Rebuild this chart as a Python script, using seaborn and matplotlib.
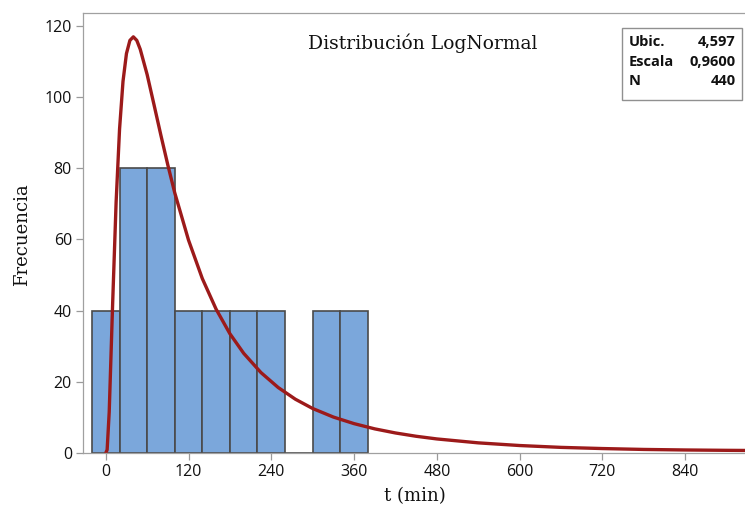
import matplotlib
matplotlib.use("Agg")
import matplotlib.pyplot as plt
import seaborn as sns
import numpy as np
import pandas as pd
from matplotlib.patches import Rectangle

# ---- data ----
bin_centers = [0, 40, 80, 120, 160, 200, 240, 280, 320, 360]
bin_counts = [40, 80, 80, 40, 40, 40, 40, 0, 40, 40]
bin_edges = [-20, 20, 60, 100, 140, 180, 220, 260, 300, 340, 380]

curve_x = [0, 2, 5, 10, 15, 20, 25, 30, 35, 40, 45, 50, 60, 70, 80, 90, 100,
           120, 140, 160, 180, 200, 225, 250, 275, 300, 330, 360, 390, 420,
           450, 480, 540, 600, 660, 720, 780, 840, 900, 940]
curve_y = [0, 0.9, 11.5, 42.1, 70.4, 91.0, 104.4, 112.2, 115.9, 116.9, 115.9,
           113.4, 106.3, 97.8, 89.2, 80.9, 73.1, 59.8, 49.0, 40.4, 33.5, 28.0,
           22.6, 18.4, 15.1, 12.5, 10.1, 8.25, 6.78, 5.63, 4.70, 3.95, 2.85,
           2.10, 1.58, 1.25, 1.0, 0.85, 0.75, 0.7]

x_ticks = [0, 120, 240, 360, 480, 600, 720, 840]
y_ticks = [0, 20, 40, 60, 80, 100, 120]

legend_rows = [("Ubic.", "4,597"), ("Escala", "0,9600"), ("N", "440")]

# ---- figure ----
sns.set_theme(style="white")
plt.rcParams['font.family'] = ['Open Sans', 'DejaVu Sans']

W, H = 745, 513
fig = plt.figure(figsize=(W / 100, H / 100), dpi=100)
ax = fig.add_axes([83 / W, 1 - 453 / H, 1 - 83 / W + 0.002, (453 - 13) / H])

hist_df = pd.DataFrame({"t": bin_centers, "n": bin_counts})
sns.histplot(data=hist_df, x="t", weights="n", bins=bin_edges, ax=ax,
             color="#7ba7db", alpha=1.0, edgecolor="#4a4a4a", linewidth=1.2)

curve_df = pd.DataFrame({"t": curve_x, "f": curve_y})
sns.lineplot(data=curve_df, x="t", y="f", ax=ax, color="#9c1a1a",
             linewidth=2.4, sort=False)

ax.set_xlim(-33, 929)
ax.set_ylim(0, 123.6)
ax.set_xticks(x_ticks)
ax.set_yticks(y_ticks)
ax.tick_params(axis="both", direction="out", length=5, width=0.9,
               color="#9a9a9a", labelsize=11.5, pad=3, labelcolor="#111111")
ax.tick_params(axis="x", bottom=True)
ax.tick_params(axis="y", left=True)
for s in ["left", "bottom", "top"]:
    ax.spines[s].set_color("#a0a0a0")
    ax.spines[s].set_linewidth(0.9)
ax.spines["right"].set_visible(False)

ax.set_xlabel("")
ax.set_ylabel("")

serif = ['DejaVu Serif']
fig.text(22 / W, 1 - 235 / H, "Frecuencia", rotation=90, ha="center",
         va="center", fontsize=13, family=serif, color="#111111")
fig.text(415 / W, 1 - 496 / H, "t (min)", ha="center", va="center",
         fontsize=13, family=serif, color="#111111")
fig.text(423 / W, 1 - 43 / H, "Distribución LogNormal", ha="center",
         va="center", fontsize=13.5, family=serif, color="#111111")

# legend box
fig.patches.append(Rectangle((622 / W, 1 - 100 / H), 120 / W, 72 / H,
                             transform=fig.transFigure, facecolor="white",
                             edgecolor="#909090", linewidth=1.0, zorder=5))
for i, (k, v) in enumerate(legend_rows):
    yy = 1 - (42 + i * 19.5) / H
    fig.text(629 / W, yy, k, ha="left", va="center", fontsize=10.5,
             fontweight="bold", color="#111111", zorder=6)
    fig.text(736 / W, yy, v, ha="right", va="center", fontsize=10.5,
             fontweight="bold", color="#111111", zorder=6)

fig.savefig("out.png", dpi=100)
